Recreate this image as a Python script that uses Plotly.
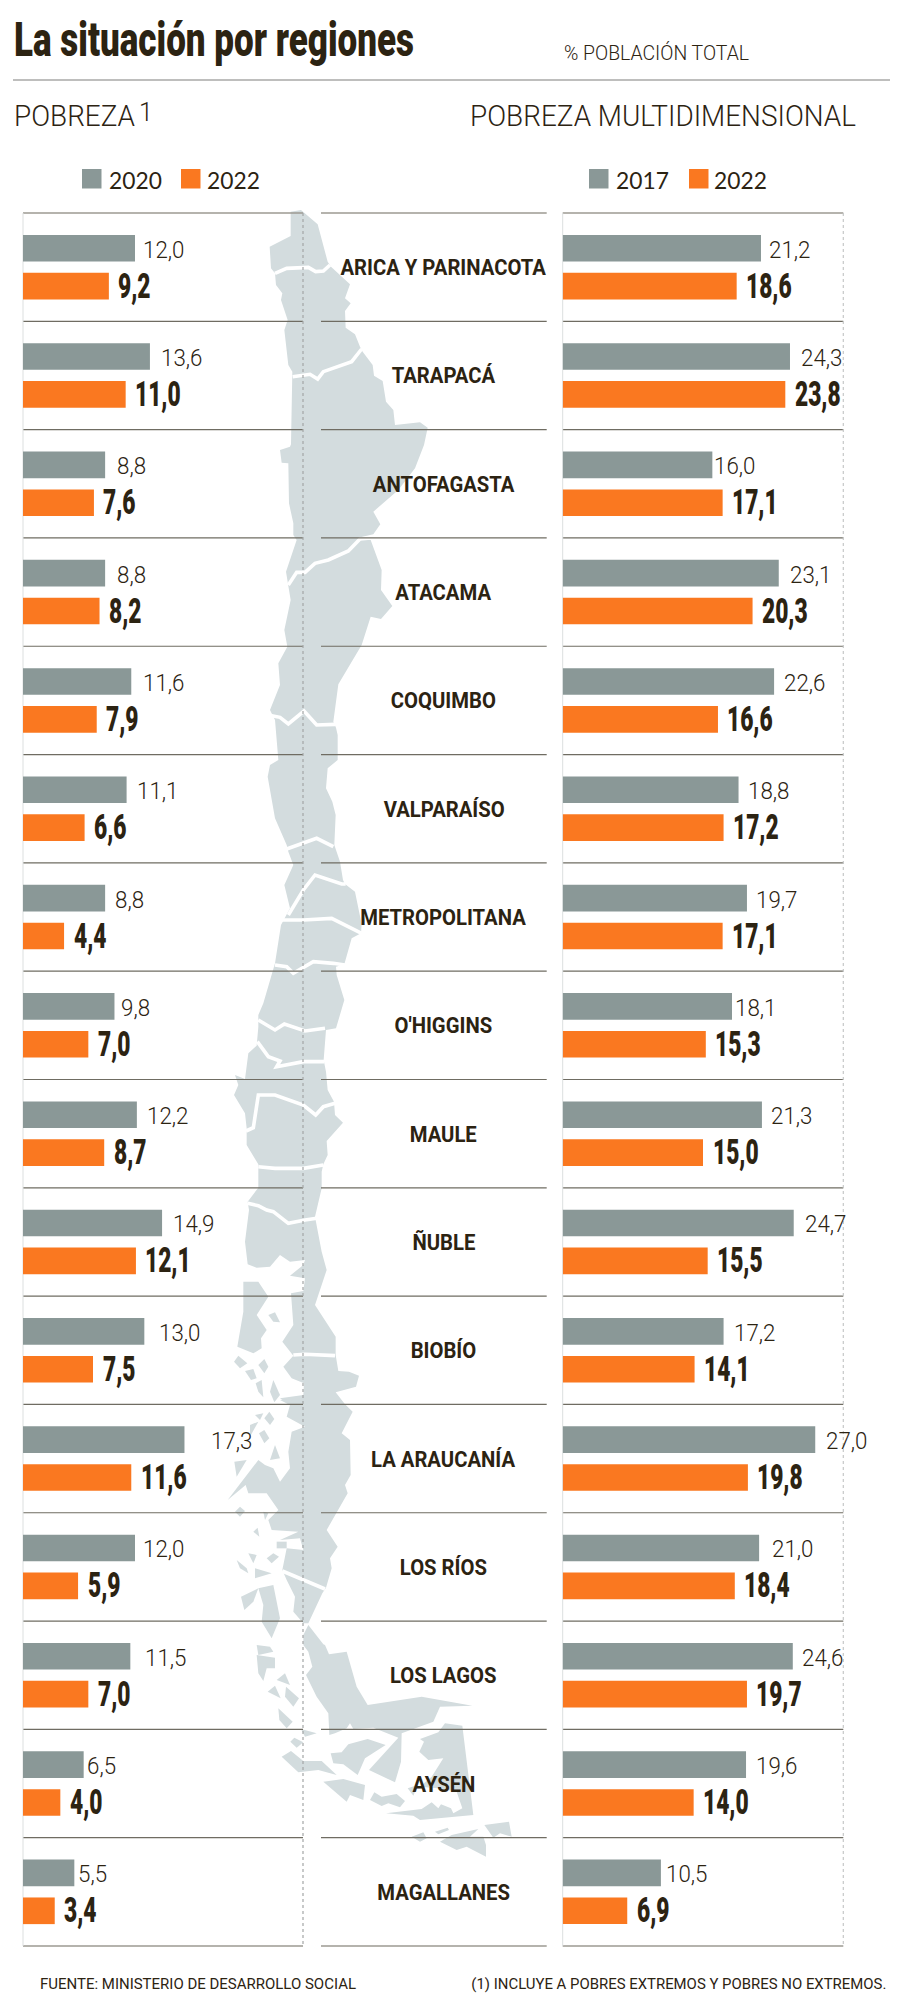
import json
import plotly.graph_objects as go

# ---------- data ----------
REGIONS = ["ARICA Y PARINACOTA", "TARAPACÁ", "ANTOFAGASTA", "ATACAMA", "COQUIMBO", "VALPARAÍSO",
           "METROPOLITANA", "O'HIGGINS", "MAULE", "ÑUBLE", "BIOBÍO", "LA ARAUCANÍA", "LOS RÍOS",
           "LOS LAGOS", "AYSÉN", "MAGALLANES"]
POBREZA_2020 = [12.0, 13.6, 8.8, 8.8, 11.6, 11.1, 8.8, 9.8, 12.2, 14.9, 13.0, 17.3, 12.0, 11.5, 6.5, 5.5]
POBREZA_2022 = [9.2, 11.0, 7.6, 8.2, 7.9, 6.6, 4.4, 7.0, 8.7, 12.1, 7.5, 11.6, 5.9, 7.0, 4.0, 3.4]
MULTI_2017 = [21.2, 24.3, 16.0, 23.1, 22.6, 18.8, 19.7, 18.1, 21.3, 24.7, 17.2, 27.0, 21.0, 24.6, 19.6, 10.5]
MULTI_2022 = [18.6, 23.8, 17.1, 20.3, 16.6, 17.2, 17.1, 15.3, 15.0, 15.5, 14.1, 19.8, 18.4, 19.7, 14.0, 6.9]

# ---------- style / layout ----------
W, H = 900, 2007
GREY, ORANGE, MAPC, INK = "#8a9897", "#fa7820", "#d3dcde", "#2c2312"
FONT = "Roboto"
LEG = "Lato"
TOP, BOTTOM = 213, 1946
L0, L1, R0, R1 = 23, 303, 562.7, 843.3
C0, C1 = 321, 546.7
GAP_L = [6, 9.5, 9.5, 9.5, 10, 8, 8, 5, 8, 9, 13, 25, 6, 13, 1.5, 2]
GAP_R = [6, 9.5, -0.5, 9.5, 8, 7, 7, 1, 7, 9.5, 8, 9, 11, 7, 7.6, 3]
# horizontal condensing of text: target widths for headers, factors per font size otherwise
TARGET_W = {"La situación por regiones": 400, "% POBLACIÓN TOTAL": 185, "POBREZA": 121,
            "POBREZA MULTIDIMENSIONAL": 386, "FUENTE: MINISTERIO DE DESARROLLO SOCIAL": 316,
            "(1) INCLUYE A POBRES EXTREMOS Y POBRES NO EXTREMOS.": 415}
SIZE_VAL_BOLD, SIZE_VAL, SIZE_REGION, SIZE_LEGEND = 35, 23, 22.5, 23.5
SIZE_FACTOR = {SIZE_VAL_BOLD: 0.65, SIZE_VAL: 0.97, SIZE_REGION: 0.9, SIZE_LEGEND: 0.97}


def fx(x):
    return x / W


def fy(y):
    return 1 - y / H


# ---------- decorative map silhouette (traced in page pixels) ----------
def seg(k, pts):
    return [(x, y + 720 * k) for x, y in pts]


def to_path(pts, close=True):
    p = [(225 + x / 3, 205 + y / 3) for x, y in pts]
    s = "M " + " L ".join(f"{fx(a):.5f},{fy(b):.5f}" for a, b in p)
    return s + (" Z" if close else "")


MAIN = (
    seg(0, [(197, 20), (228, 15), (278, 58), (308, 170), (318, 185), (375, 238), (360, 280), (377, 295), (360, 318),
            (362, 368), (390, 388), (405, 425), (413, 440), (443, 480), (447, 512), (473, 528), (483, 590), (505, 615),
            (510, 660), (585, 652), (608, 668)])
    + seg(1, [(597, 0), (570, 70), (520, 135), (445, 200), (466, 238), (445, 268), (400, 278), (437, 285), (470, 375),
              (468, 435), (502, 483), (468, 522), (437, 515), (410, 600), (340, 718)])
    + seg(2, [(325, 110), (333, 128), (338, 150), (338, 225), (308, 250), (303, 310), (322, 350), (332, 390), (328, 480),
              (345, 530), (354, 585), (360, 597), (390, 620), (410, 718)])
    + seg(3, [(408, 25), (380, 40), (358, 118), (333, 125), (335, 150), (358, 225), (333, 310), (303, 315), (296, 405),
              (303, 440), (308, 495), (327, 530), (330, 570), (354, 593), (305, 648), (308, 690), (295, 718)])
    + seg(4, [(290, 20), (290, 70), (270, 155), (290, 260), (305, 315), (270, 420), (332, 515), (332, 570), (340, 618),
              (372, 620), (402, 632), (393, 665), (332, 682), (360, 718)])
    + seg(5, [(383, 20), (350, 85), (375, 105), (377, 210), (360, 240), (368, 265), (305, 375), (338, 425), (315, 460),
              (320, 490), (303, 548), (292, 565), (250, 655), (235, 655), (205, 620), (210, 575), (185, 525), (172, 495),
              (185, 430), (235, 435), (225, 400), (165, 405), (220, 380), (140, 375), (130, 345), (160, 315), (125, 265),
              (70, 265), (62, 240), (8, 285), (100, 165), (120, 180), (145, 190), (165, 230), (195, 190), (190, 140),
              (200, 80), (240, 65), (185, 35), (195, 0)])
    + seg(4, [(165, 700), (235, 690), (237, 655), (200, 640), (175, 605), (205, 572), (172, 530), (205, 480), (198, 385),
              (235, 378), (240, 340), (195, 332), (235, 300), (240, 285), (195, 290), (165, 270), (135, 305), (95, 308),
              (68, 298), (60, 230), (72, 135), (68, 110), (100, 68), (100, 0)])
    + seg(3, [(100, 718), (65, 660), (65, 610), (60, 565), (27, 510), (40, 480), (30, 450), (60, 462), (70, 385),
              (95, 362), (100, 305), (100, 270), (115, 235), (150, 115), (168, 0)])
    + seg(2, [(195, 670), (178, 600), (205, 540), (190, 500), (185, 480), (150, 400), (128, 275), (135, 240), (160, 225),
              (150, 105), (135, 75), (165, 0)])
    + seg(1, [(160, 655), (187, 605), (178, 555), (197, 465), (183, 380), (215, 285), (205, 270), (205, 235), (192, 175),
              (190, 55), (170, 53), (165, 15), (195, 5)])
    + seg(0, [(198, 718), (202, 500), (190, 480), (178, 375), (188, 345), (168, 285), (172, 265), (153, 240), (150, 205),
              (138, 190), (134, 125), (197, 93)])
)
SOUTH = (
    seg(5, [(250, 660), (295, 718)])
    + seg(6, [(300, 0), (312, 28), (365, 20), (395, 125), (428, 180), (590, 155), (742, 182), (645, 185), (625, 230),
              (530, 265), (528, 350), (510, 412), (432, 375), (520, 278), (445, 248), (385, 252), (375, 235), (365, 250),
              (330, 265), (313, 270), (310, 205), (275, 155), (243, 90), (262, 65), (250, 20), (235, 0)])
    + seg(5, [(235, 690)])
)
ISLANDS = [
    seg(4, p) for p in [
        [(55, 350), (100, 350), (130, 395), (95, 450), (125, 495), (108, 520), (110, 550), (85, 565), (37, 545), (55, 440)],
        [(27, 590), (40, 572), (67, 595), (45, 610)], [(100, 600), (118, 582), (130, 605), (118, 625)],
        [(60, 618), (85, 612), (95, 640), (78, 645)], [(92, 655), (110, 645), (115, 697), (100, 680)],
        [(135, 680), (145, 645), (165, 690), (148, 712)], [(165, 705), (205, 700), (190, 718)],
        [(130, 450), (150, 442), (165, 472), (145, 470)],
    ]
] + [
    seg(5, p) for p in [
        [(118, 40), (133, 20), (148, 42), (135, 60)], [(90, 30), (115, 25), (105, 45)],
        [(102, 85), (118, 75), (133, 100), (118, 115)], [(75, 60), (100, 50), (75, 95)],
        [(150, 120), (165, 160), (135, 165)], [(28, 170), (65, 165), (35, 215)],
        [(30, 320), (45, 305), (60, 318), (45, 335)], [(115, 320), (130, 325), (120, 345)],
        [(85, 380), (98, 368), (103, 395)], [(35, 465), (65, 490), (70, 505), (45, 490)],
        [(70, 445), (95, 450), (85, 475)], [(125, 460), (145, 445), (162, 455), (140, 475)],
        [(90, 490), (140, 505), (90, 520)], [(48, 575), (100, 550), (85, 590), (58, 615)],
        [(100, 550), (145, 540), (165, 640), (140, 700), (110, 650), (115, 600)],
        [(155, 410), (185, 410), (185, 430), (155, 430)],
    ]
] + [
    seg(6, p) for p in [
        [(95, 0), (135, 5), (145, 20), (100, 30)],
        [(95, 30), (150, 38), (150, 70), (125, 70), (115, 108), (100, 85)],
        [(155, 105), (180, 85), (195, 120)], [(128, 140), (150, 122), (167, 160)],
        [(183, 125), (222, 160), (205, 185), (180, 155)], [(160, 190), (203, 230), (185, 250), (163, 225)],
        [(196, 290), (208, 278), (235, 292), (215, 308)], [(228, 252), (275, 265), (240, 275)],
        [(170, 335), (198, 318), (235, 348), (290, 348), (335, 390), (280, 375), (220, 382)],
        [(295, 410), (355, 402), (420, 420), (415, 465), (375, 450), (365, 470)],
        [(317, 325), (350, 322), (370, 298), (428, 282), (482, 300), (420, 340), (398, 390), (355, 358), (325, 355)],
        [(660, 235), (712, 242), (745, 510), (585, 525), (565, 512), (483, 505), (590, 492), (620, 472), (640, 490),
         (648, 478), (678, 490), (685, 505), (712, 490), (695, 440), (640, 430), (585, 425), (620, 395), (655, 340),
         (610, 345), (583, 320), (597, 290), (585, 282), (640, 262)],
        [(548, 430), (578, 420), (565, 452)],
        [(435, 465), (448, 442), (470, 455), (515, 447), (540, 468), (525, 487), (490, 475), (470, 483)],
        [(560, 575), (595, 562), (605, 580), (585, 590)], [(630, 560), (668, 548), (672, 555), (640, 568)],
        [(645, 590), (680, 570), (760, 552), (735, 575), (775, 575), (783, 600), (783, 635), (725, 605), (695, 615)],
        [(778, 540), (852, 530), (860, 575), (825, 565), (805, 578)],
    ]
]
BORDERS = [
    seg(0, [(150, 205), (185, 190), (250, 187), (272, 200), (295, 198), (315, 180)]),
    seg(0, [(203, 515), (255, 508), (278, 522), (295, 500), (380, 470), (410, 432)]),
    seg(1, [(190, 420), (215, 382), (240, 382), (270, 355), (310, 345), (370, 318), (405, 282), (445, 278)]),
    seg(2, [(140, 92), (165, 97), (190, 117), (237, 78), (275, 120), (330, 118)]),
    seg(2, [(185, 492), (275, 460), (325, 485)]),
    seg(2, [(190, 690), (235, 615), (270, 570), (350, 597), (362, 597)]),
    seg(2, [(170, 705), (235, 705), (320, 700), (410, 745)]),
    seg(3, [(150, 120), (185, 125), (205, 145), (265, 110), (325, 115), (360, 120)]),
    seg(3, [(100, 285), (150, 315), (178, 297), (240, 318), (300, 310)]),
    seg(3, [(97, 350), (130, 395), (165, 408), (155, 425), (235, 410), (298, 410)]),
    seg(3, [(63, 618), (85, 608), (100, 510), (150, 510), (235, 540), (272, 570), (295, 545), (330, 535)]),
    seg(4, [(100, 5), (150, 10), (235, 10), (295, 0)]),
    seg(4, [(68, 115), (100, 122), (125, 135), (145, 140), (190, 175), (240, 165), (275, 160)]),
    seg(4, [(205, 570), (240, 568), (330, 572)]),
    seg(5, [(172, 498), (300, 552)]),
]

shapes = []
for poly in [MAIN, SOUTH] + ISLANDS:
    shapes.append(dict(type="path", xref="paper", yref="paper", path=to_path(poly), fillcolor=MAPC,
                       line=dict(width=0), layer="below"))
for b in BORDERS:
    shapes.append(dict(type="path", xref="paper", yref="paper", path=to_path(b, close=False), fillcolor="rgba(0,0,0,0)",
                       line=dict(color="white", width=3.6), layer="below"))


def hline(x0, x1, y, color, width):
    shapes.append(dict(type="line", xref="paper", yref="paper", x0=fx(x0), x1=fx(x1), y0=fy(y), y1=fy(y),
                       line=dict(color=color, width=width), layer="below"))


def vline(x, color, width, dash="solid"):
    shapes.append(dict(type="line", xref="paper", yref="paper", x0=fx(x), x1=fx(x), y0=fy(TOP), y1=fy(BOTTOM),
                       line=dict(color=color, width=width, dash=dash), layer="below"))


hline(13, 890, 80, "#a9a9a7", 1.6)
n = len(REGIONS)
for i in range(n + 1):
    y = TOP + (BOTTOM - TOP) * i / n
    edge = i in (0, n)
    col = "#9c9a92" if edge else "#6f6c62"
    for a, b in ((L0, L1), (C0, C1), (R0, R1)):
        hline(a, b, y, col, 1.4 if edge else 1.2)
vline(L0, "#dcdfdf", 1)
vline(R0, "#dcdfdf", 1)
vline(L1, "#a3a6a6", 1.2, "3px,3px")
vline(R1, "#c6c8c8", 1.2, "3px,3px")

# legend swatches
for x0, c in ((82, GREY), (181, ORANGE), (589, GREY), (689, ORANGE)):
    shapes.append(dict(type="rect", xref="paper", yref="paper", x0=fx(x0), x1=fx(x0 + 19.5), y0=fy(169), y1=fy(188.5),
                       fillcolor=c, line=dict(width=0), layer="above"))

# ---------- text ----------
ann = []


def text(x, y, s, family, size, weight=400, anchor="left"):
    ann.append(dict(xref="paper", yref="paper", x=fx(x), y=fy(y), text=s, showarrow=False, xanchor=anchor,
                    yanchor="middle", align=anchor, font=dict(family=family, size=size, color=INK, weight=weight)))


text(11.5, 39, "La situación por regiones", FONT, 48, 900)
text(561.5, 53, "% POBLACIÓN TOTAL", FONT, 20, 300)
text(11.5, 116, "POBREZA", FONT, 29.5, 300)
text(137, 113, "1", FONT, 25, 300)
text(467.5, 116, "POBREZA MULTIDIMENSIONAL", FONT, 29.5, 300)
text(107, 180, "2020", LEG, SIZE_LEGEND)
text(205, 180, "2022", LEG, SIZE_LEGEND)
text(614, 180, "2017", LEG, SIZE_LEGEND)
text(712, 180, "2022", LEG, SIZE_LEGEND)
text(37.5, 1984, "FUENTE: MINISTERIO DE DESARROLLO SOCIAL", FONT, 15)
text(888, 1984, "(1) INCLUYE A POBRES EXTREMOS Y POBRES NO EXTREMOS.", FONT, 15, anchor="right")


def fmt(v):
    return f"{v:.1f}".replace(".", ",")


for i, region in enumerate(REGIONS):
    ann.append(dict(xref="paper", yref="y", x=fx(443.7), y=region, text=region, showarrow=False, xanchor="center",
                    font=dict(family=FONT, size=SIZE_REGION, color=INK, weight=700)))
    for xref, yref, old, new, gaps in (("x", "y", POBREZA_2020, POBREZA_2022, GAP_L),
                                       ("x2", "y2", MULTI_2017, MULTI_2022, GAP_R)):
        ann.append(dict(xref=xref, yref=yref, x=old[i], y=region, text=fmt(old[i]), showarrow=False, xanchor="left",
                        align="left", xshift=gaps[i], yshift=17,
                        font=dict(family=FONT, size=SIZE_VAL, color=INK, weight=300)))
        ann.append(dict(xref=xref, yref=yref, x=new[i], y=region, text=fmt(new[i]), showarrow=False, xanchor="left",
                        align="left", xshift=7.5, yshift=-19,
                        font=dict(family=FONT, size=SIZE_VAL_BOLD, color=INK, weight=900)))

# ---------- figure ----------
fig = go.Figure()
for xa, ya, a, b, na, nb in (("x", "y", POBREZA_2020, POBREZA_2022, "2020", "2022"),
                             ("x2", "y2", MULTI_2017, MULTI_2022, "2017", "2022")):
    fig.add_trace(go.Bar(y=REGIONS, x=a, name=na, orientation="h", marker=dict(color=GREY, line=dict(width=0)), xaxis=xa, yaxis=ya))
    fig.add_trace(go.Bar(y=REGIONS, x=b, name=nb, orientation="h", marker=dict(color=ORANGE, line=dict(width=0)), xaxis=xa, yaxis=ya))

ydom = [fy(BOTTOM), fy(TOP)]
yax = dict(domain=ydom, type="category", categoryorder="array", categoryarray=REGIONS, range=[n - 0.5, -0.5], visible=False)
fig.update_layout(
    width=W, height=H, margin=dict(l=0, r=0, t=0, b=0), autosize=False,
    paper_bgcolor="white", plot_bgcolor="rgba(0,0,0,0)", showlegend=False,
    barmode="group", bargap=0.3, bargroupgap=0.297,
    xaxis=dict(domain=[fx(L0), fx(L1)], range=[0, 30], visible=False, anchor="y"),
    xaxis2=dict(domain=[fx(R0), fx(R1)], range=[0, 30], visible=False, anchor="y2"),
    yaxis=dict(anchor="x", **yax),
    yaxis2=dict(anchor="x2", **yax),
    shapes=shapes, annotations=ann,
)
post = """
document.body.style.margin='0';document.documentElement.style.overflow='hidden';
var T=%s, F=%s;
document.querySelectorAll('text.annotation-text').forEach(function(t){
  var s=t.textContent, n=t.getComputedTextLength(), w=T[s];
  if(w===undefined){ w=n*(F[parseFloat(t.style.fontSize)]||1); }
  t.setAttribute('textLength',w); t.setAttribute('lengthAdjust','spacingAndGlyphs');
});
""" % (json.dumps(TARGET_W, ensure_ascii=False), json.dumps({str(k): v for k, v in SIZE_FACTOR.items()}))
fig.write_html("out.html", config=dict(displayModeBar=False), post_script=post)
